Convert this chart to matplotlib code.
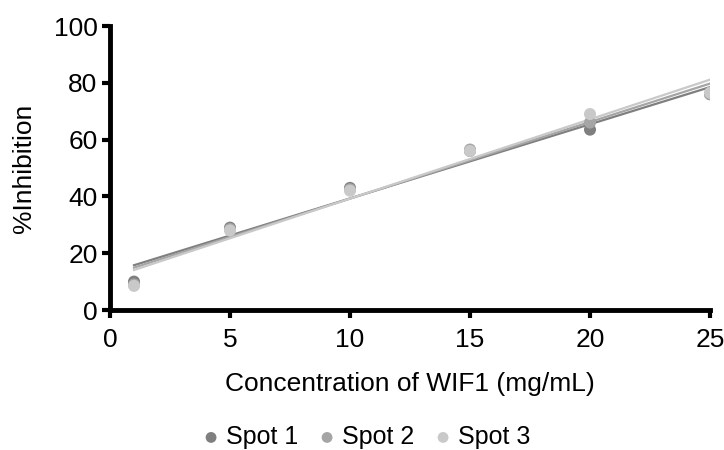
import numpy as np
import matplotlib.pyplot as plt

plt.rcParams['font.family'] = ['Liberation Sans', 'DejaVu Sans']

# concentration of WIF1 (mg/mL)
conc = [1, 5, 10, 15, 20, 25]

# %Inhibition for each spot
spot1 = [10.0, 29.0, 43.0, 56.0, 63.5, 76.0]
spot2 = [9.0, 28.5, 42.5, 56.5, 66.0, 76.0]
spot3 = [8.5, 28.0, 42.0, 56.0, 69.0, 76.5]

names = ['Spot 1', 'Spot 2', 'Spot 3']
colors = ['#7f7f7f', '#a5a5a5', '#c9c9c9']

fig = plt.figure(figsize=(7.24, 4.5), dpi=100)
ax = fig.add_axes([110 / 724, 1 - 310 / 450, 600 / 724, 284 / 450])

x = np.array(conc)
xf = np.array([min(conc), max(conc)])
for ys, name, c in zip([spot1, spot2, spot3], names, colors):
    ax.scatter(x, ys, s=75, color=c, edgecolors='none', label=name, zorder=3)
    # linear trendline
    m, b = np.polyfit(x, ys, 1)
    ax.plot(xf, m * xf + b, color=c, lw=1.6, zorder=2)

ax.set_xlim(0, 25)
ax.set_ylim(0, 100)
ax.set_xticks([0, 5, 10, 15, 20, 25])
ax.set_yticks([0, 20, 40, 60, 80, 100])
ax.spines['top'].set_visible(False)
ax.spines['right'].set_visible(False)
for s in ['left', 'bottom']:
    ax.spines[s].set_linewidth(3.5)
ax.tick_params(axis='both', direction='out', length=6, width=3, labelsize=19)
ax.tick_params(axis='x', pad=7)
ax.tick_params(axis='y', pad=3)

ax.set_xlabel('Concentration of WIF1 (mg/mL)', fontsize=19, labelpad=14)
ax.set_ylabel('%Inhibition', fontsize=19, labelpad=13)

fig.legend(loc='center', bbox_to_anchor=(367 / 724, 1 - 437 / 450), ncol=3, frameon=False,
           fontsize=18, handlelength=0.6, handletextpad=0.3, columnspacing=0.85,
           markerscale=0.9)

fig.savefig('out.png', dpi=100)
